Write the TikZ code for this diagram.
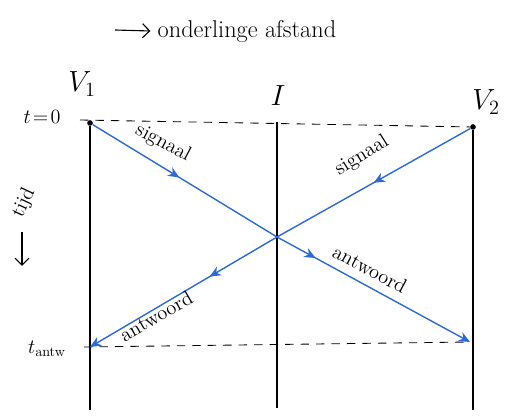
\documentclass[tikz,border=0pt]{standalone}
\usepackage{tikz}
\usetikzlibrary{arrows.meta,calc,decorations.markings,positioning}
\definecolor{inkblue}{RGB}{45,105,215}

\begin{document}
\begin{tikzpicture}[x=0.025cm,y=-0.025cm,
    worldline/.style={line width=0.9pt},
    timeline/.style={line width=0.6pt, dash pattern=on 6pt off 5pt},
    ray/.style={inkblue, line width=1pt},
    midarrow/.style={postaction={decorate}, decoration={markings,
      mark=at position #1 with {\arrow{Stealth[length=8pt,width=7pt]}}}},
    lbl/.style={font=\Large, inner sep=1pt},
    dot/.style={circle, fill=black, inner sep=0pt, minimum size=4pt}]
  \useasboundingbox (0,0) rectangle (509,419);

  % heading: direction of distance
  \coordinate (hs) at (115,30);
  \node[lbl, font=\LARGE, anchor=west] (head) at (156,31) {onderlinge afstand};
  \draw[-{Straight Barb[length=5pt]}, line width=0.8pt] (hs) -- ([xshift=-4pt]head.west);

  % world lines
  \node[dot] (v1top) at (90,123) {};
  \node[dot] (v2top) at (473,127) {};
  \coordinate (itop) at (277,122);
  \coordinate (v1bot) at (90,410);
  \coordinate (ibot) at (277,408);
  \coordinate (v2bot) at (473,410);
  \draw[worldline] (v1top) -- (v1bot);
  \draw[worldline] (itop) -- (ibot);
  \draw[worldline] (v2top) -- (v2bot);
  \node[lbl, font=\huge] (v1lbl) at (82,84) {$V_1$};
  \node[lbl, font=\huge] (ilbl) at (278,96) {$I$};
  \node[lbl, font=\huge] (v2lbl) at (486,102) {$V_2$};

  % time marks
  \coordinate (t0left) at (80,120);
  \coordinate (taleft) at (84,347);
  \coordinate (taright) at (470,342);
  \draw[timeline] (t0left) -- (v2top);
  \draw[timeline] (taleft) -- (taright);
  \node[lbl] (t0) at (42,117) {$t\!=\!0$};
  \node[lbl] (tantw) at (47,349) {$t_{\mathrm{antw}}$};

  % time direction
  \node[lbl, rotate=65] (tijd) at (24,203) {tijd};
  \coordinate (tarr) at (22,266);
  \draw[-{Straight Barb[length=5pt]}, line width=0.8pt] (22,232) -- (tarr);

  % signals and answers
  \coordinate (cross) at (277,237);
  \draw[ray, midarrow=0.47] (v1top) -- (cross);
  \draw[ray, midarrow=0.5] (v2top) -- (cross);
  \draw[ray, midarrow=0.36, -{Stealth[length=8pt,width=7pt]}] (cross) -- (taleft -| v1top);
  \draw[ray, midarrow=0.2, -{Stealth[length=8pt,width=7pt]}] (cross) -- (taright);

  \node[lbl, rotate=-28] (sig1) at (163,143) {signaal};
  \node[lbl, rotate=32] (sig2) at (362,156) {signaal};
  \node[lbl, rotate=30] (ant1) at (156,316) {antwoord};
  \node[lbl, rotate=-28] (ant2) at (370,269) {antwoord};
\end{tikzpicture}
\end{document}
